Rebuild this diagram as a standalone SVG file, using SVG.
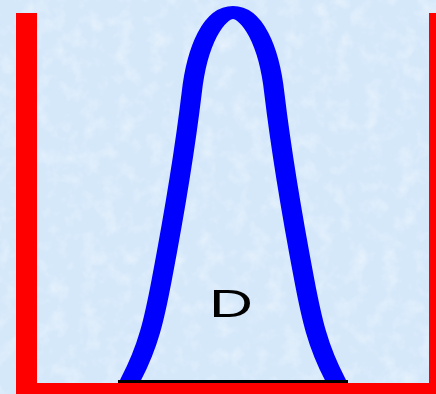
<svg xmlns="http://www.w3.org/2000/svg" width="436" height="394" viewBox="0 0 436 394">
  <defs>
    <filter id="tex" x="0" y="0" width="100%" height="100%">
      <feTurbulence type="fractalNoise" baseFrequency="0.06" numOctaves="3" seed="4" result="n"/>
      <feColorMatrix in="n" type="matrix" values="0 0 0 0 1  0 0 0 0 1  0 0 0 0 1  0 0 0 1.6 -0.75" result="w"/>
      <feComposite in="w" in2="SourceGraphic" operator="in"/>
    </filter>
    <clipPath id="above">
      <rect x="0" y="0" width="436" height="380"/>
    </clipPath>
    <style>
      .bar { fill: #ff0000; }
      .curve { fill: none; stroke: #0000ff; stroke-width: 13; stroke-linejoin: round; }
      .base { stroke: #000000; stroke-width: 3; }
      .lbl { font-family: "Liberation Sans", Arial, sans-serif; font-size: 38px; fill: #000000; }
    </style>
  </defs>

  <g id="background">
    <rect x="0" y="0" width="436" height="394" fill="#d5e8fa"/>
    <rect x="0" y="0" width="436" height="394" fill="#ffffff" filter="url(#tex)" opacity="0.55"/>
  </g>

  <g id="curve" clip-path="url(#above)">
    <path class="curve" transform="translate(233,0) scale(1.55,1)" d="M-68.39,388 L-66.13,380 C-54.5,346 -50.65,318 -46,280 C-38.65,220 -31.29,153 -26.65,93 C-23.23,45 -12.26,12.5 0,12.5 C12.26,12.5 23.23,45 26.65,93 C31.29,153 38.65,220 46,280 C50.65,318 54.5,346 66.13,380 L68.39,388"/>
  </g>

  <g id="connectors">
    <line class="base" x1="118" y1="381.5" x2="348" y2="381.5"/>
  </g>

  <g id="frame">
    <rect class="bar" x="16" y="13" width="21" height="381"/>
    <rect class="bar" x="16" y="383" width="420" height="11"/>
    <rect class="bar" x="429" y="13" width="7" height="381"/>
  </g>

  <g id="label">
    <text class="lbl" transform="translate(231,317) scale(1.6,1)" text-anchor="middle">D</text>
  </g>
</svg>
